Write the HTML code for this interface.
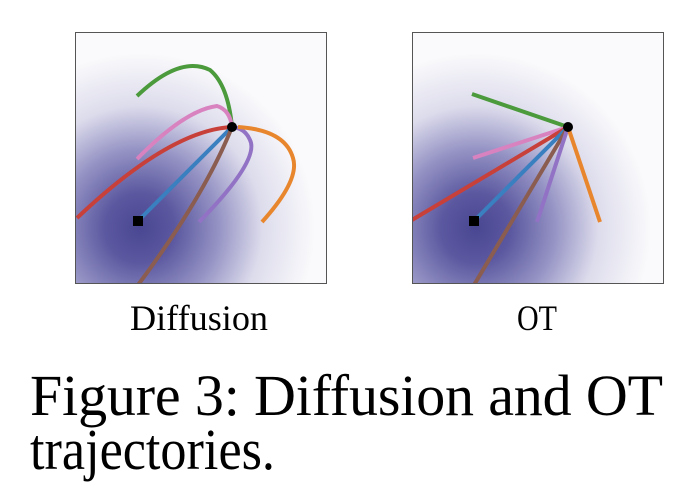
<!DOCTYPE html>
<html><head><style>html,body{margin:0;padding:0;background:#fff}svg{display:block}</style></head>
<body>
<svg width="700" height="496" viewBox="0 0 700 496" xmlns="http://www.w3.org/2000/svg">
<defs>
<radialGradient id="g1" cx="140" cy="228" r="175" gradientUnits="userSpaceOnUse">
<stop offset="0" stop-color="#4a4792"/>
<stop offset="0.2" stop-color="#5b58a0"/>
<stop offset="0.45" stop-color="#9593c4"/>
<stop offset="0.7" stop-color="#dddcec"/>
<stop offset="1" stop-color="#fafafc"/>
</radialGradient>
<radialGradient id="g2" cx="476" cy="228" r="175" gradientUnits="userSpaceOnUse">
<stop offset="0" stop-color="#4a4792"/>
<stop offset="0.2" stop-color="#5b58a0"/>
<stop offset="0.45" stop-color="#9593c4"/>
<stop offset="0.7" stop-color="#dddcec"/>
<stop offset="1" stop-color="#fafafc"/>
</radialGradient>
<clipPath id="c1"><rect x="75" y="32" width="251" height="251"/></clipPath>
<clipPath id="c2"><rect x="412" y="32" width="251" height="251"/></clipPath>
</defs>
<g clip-path="url(#c1)" fill="none" stroke-width="4" stroke-linecap="butt">
<rect x="75" y="32" width="251" height="251" fill="url(#g1)" stroke="none"/>
<path d="M137,96 Q180,55 210,70 Q228,85 232,127" stroke="#4b9a3c"/>
<path d="M137,159 Q185,110 217,106 Q230,110 232,127" stroke="#d882c0"/>
<path d="M77,218 Q170,130 232,127" stroke="#c8403a"/>
<path d="M138,221 L232,127" stroke="#3a7fbf"/>
<path d="M138,285 Q205,195 232,127" stroke="#8a5d50"/>
<path d="M199,222 Q260,160 250,140 Q245,128 232,127" stroke="#9272c4"/>
<path d="M262,222 Q300,180 293,158 Q285,130 238,127" stroke="#e8862e"/>
<circle cx="232" cy="127" r="5" fill="#000" stroke="none"/>
<rect x="133" y="216" width="10" height="10" fill="#000" stroke="none"/>
</g>
<rect x="75.5" y="32.5" width="251" height="251" fill="none" stroke="#555" stroke-width="1"/>
<g clip-path="url(#c2)" fill="none" stroke-width="4">
<rect x="412" y="32" width="251" height="251" fill="url(#g2)" stroke="none"/>
<path d="M472,94 L568,127" stroke="#4b9a3c"/>
<path d="M473,158 L568,127" stroke="#d882c0"/>
<path d="M412,220 L568,127" stroke="#c8403a"/>
<path d="M474,221 L568,127" stroke="#3a7fbf"/>
<path d="M474,285 L568,127" stroke="#8a5d50"/>
<path d="M537,222 L568,127" stroke="#9272c4"/>
<path d="M600,222 L568,127" stroke="#e8862e"/>
<circle cx="568" cy="127" r="5" fill="#000" stroke="none"/>
<rect x="469" y="216" width="10" height="10" fill="#000" stroke="none"/>
</g>
<rect x="412.5" y="32.5" width="251" height="251" fill="none" stroke="#555" stroke-width="1"/>
<g font-family="Liberation Serif, serif" fill="#000">
<text x="130" y="330" font-size="36" textLength="138" lengthAdjust="spacingAndGlyphs">Diffusion</text>
<text x="517" y="330" font-size="36" textLength="40" lengthAdjust="spacingAndGlyphs">OT</text>
<text x="30" y="415" font-size="58" textLength="633" lengthAdjust="spacing">Figure 3:  Diffusion and OT</text>
<text x="30" y="469" font-size="58" textLength="245" lengthAdjust="spacingAndGlyphs">trajectories.</text>
</g>
</svg>
</body></html>
